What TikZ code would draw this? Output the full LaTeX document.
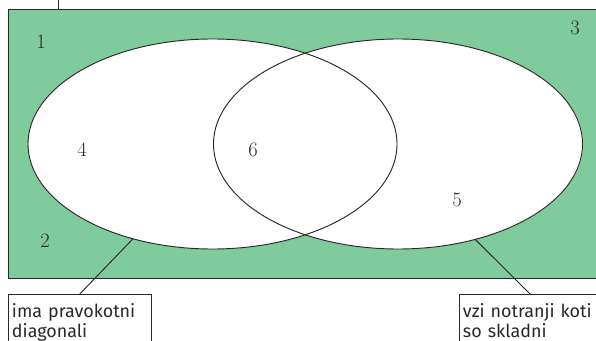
\documentclass[tikz,border=0pt]{standalone}
\usepackage{fontspec}
\newfontfamily\labelfont{Fira Sans}
\usetikzlibrary{shapes.geometric, backgrounds}
\definecolor{vennfill}{RGB}{128,203,156}
\definecolor{vennline}{RGB}{40,40,40}

\begin{document}
\begin{tikzpicture}[
    x=0.03cm, y=-0.03cm,
    venn/.style={ellipse, draw=vennline, line width=0.8pt, minimum width=11.07cm, minimum height=6.3cm, inner sep=0pt, outer sep=0pt},
    namebox/.style={rectangle, draw=vennline, line width=0.8pt, fill=white, anchor=north west, text width=4.07cm, inner xsep=3pt, inner ysep=0pt, text height=0.69cm, text depth=1.2cm, align=left, font=\labelfont\fontsize{15.3}{17.5}\selectfont, text=vennline},
    link/.style={draw=vennline, line width=0.8pt},
    num/.style={font=\fontsize{17.5}{19}\selectfont, text=vennline}
]
    \clip (0,0) rectangle (596,341);

    % Universe and the two sets
    \node[rectangle, draw=vennline, line width=0.8pt, anchor=north west, minimum width=17.9cm, minimum height=8.07cm, inner sep=0pt] (universe) at (8,9) {};
    \node[venn] (lset) at (212.5,144) {};
    \node[venn] (rset) at (398,144) {};

    \begin{scope}[on background layer]
        \fill[vennfill] (universe.north west) rectangle (universe.south east);
        \fill[white] (lset.center) ellipse [x radius=184.5, y radius=105];
        \fill[white] (rset.center) ellipse [x radius=185, y radius=105];
    \end{scope}

    % Region numbers
    \node[num] (n1) at (41,42) {1};
    \node[num] (n2) at (45,241) {2};
    \node[num] (n3) at (575,28) {3};
    \node[num] (n4) at (82,150) {4};
    \node[num] (n5) at (457,200) {5};
    \node[num] (n6) at (253,150) {6};

    % Labels
    \node[namebox] (lname) at (8,294) {ima pravokotni\\diagonali};
    \node[namebox, text width=4.8cm] (rname) at (459,294) {vzi notranji koti\\so skladni};
    \coordinate (utop) at (58,0);

    \draw[link] (lset.230.8) -- (lname.north);
    \draw[link] (rset.309.7) -- ([xshift=2.13cm]rname.north west);
    \draw[link] (utop) -- (utop |- universe.north);
\end{tikzpicture}
\end{document}
